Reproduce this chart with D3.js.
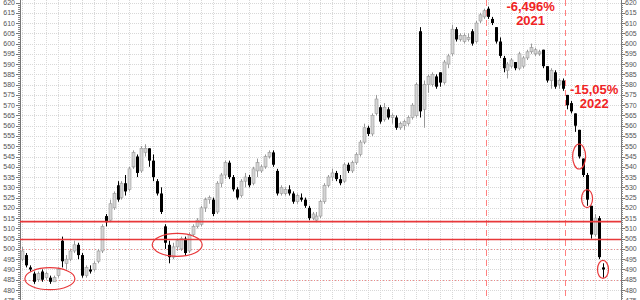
<!DOCTYPE html>
<html>
<head>
<meta charset="utf-8">
<script src="https://cdn.jsdelivr.net/npm/d3@7"></script>
<style>
  body { margin: 0; background: #fff; }
  svg { display: block; font-family: "Liberation Sans", Arial, sans-serif; }
</style>
</head>
<body>
<div id="chart"></div>
<script>
// OHLC values, one per bar (left to right)
var opens = [495,497,491,488,485,489,486,486,484,487,504,493,495,499,502,497,487,490,490,494,499,516,514,520,531,525,532,529,540,545,538,547,549,543,533,527,511,502,496,501,500,505,499,507,511,512,520,524,524,518,532,536,542,535,529,526,533,535,532,538,538,540,545,547,538,527,527,529,527,523,525,524,520,515,514,516,523,531,535,537,534,533,541,538,542,546,552,559,556,566,569,563,568,564,564,559,560,561,564,565,606,568,580,580,584,586,581,590,595,607,602,601,602,606,601,611,613,617,612,608,601,593,587,589,591,588,589,593,596,595,595,597,589,582,586,580,582,575,571,566,558,544,536,521,507,515,491];
var highs = [501,498,492,489,489,490,489,487,487,491,506,497,500,504,503,498,492,492,494,500,512,517,524,528,533,533,536,540,548,546,550,551,549,546,534,530,512,504,503,505,506,506,508,512,515,521,525,526,525,533,537,543,543,536,530,534,537,536,540,544,541,546,548,548,539,531,530,531,528,527,527,525,521,518,518,524,532,536,539,538,536,542,542,543,547,553,561,560,566,575,570,571,569,566,565,562,563,565,571,581,608,582,585,586,585,586,592,595,609,608,605,605,605,607,611,615,617,618,613,608,603,594,591,593,591,596,594,597,600,598,597,597,589,588,587,583,583,575,572,566,558,544,537,521,517,516,493];
var lows  = [494,491,489,483,484,484,485,483,484,486,491,490,494,498,495,486,486,488,489,493,498,511,513,519,523,524,526,528,539,535,537,545,540,533,526,517,500,493,495,499,499,497,498,506,510,511,518,522,516,517,530,534,534,528,524,525,530,530,531,535,537,539,544,540,526,526,526,526,522,522,523,520,514,514,513,515,522,530,533,533,531,532,537,537,541,545,551,555,555,565,561,562,563,561,558,558,558,560,563,564,564,559,576,579,578,579,580,588,594,601,601,600,601,599,600,610,612,612,609,600,593,586,583,588,587,587,588,592,595,594,594,588,581,578,578,578,577,568,566,557,544,535,521,505,506,495,486];
var closes= [499,492,490,484,488,485,488,484,486,490,494,495,499,502,497,487,491,489,493,499,511,513,522,527,524,532,528,539,547,537,549,549,543,535,527,518,503,496,501,504,505,498,507,511,514,520,524,525,517,532,536,542,535,529,525,533,535,531,539,542,540,545,547,541,527,530,529,527,523,526,524,521,515,517,516,523,531,535,537,534,532,541,538,542,546,552,559,556,565,573,562,569,564,565,559,561,562,564,570,580,567,580,584,585,579,581,591,594,607,602,604,604,603,600,610,614,616,613,610,601,594,588,590,592,588,595,593,596,598,597,596,589,582,587,579,582,578,570,567,560,545,536,524,507,515,496,490];

// price levels drawn across the chart
var supportLevels = [513.3, 504.6];
var dottedLevels = [500, 485];
// bars where a new year starts, with its performance label
var yearBars = [117, 137];
var yearNames = ["2021", "2022"];
var yearPerf = ["-6,496%", "-15,05%"];
// circled bars: [bar index, price, x radius, y radius]
var circles = [[6, 485.5, 25, 11], [39, 502, 25, 11.5], [140, 545, 6.5, 12.5], [142, 524.5, 5.5, 9], [146, 490, 5.5, 9]];
var circleShift = [4, 0, 0, 0, 0];

var width = 640, height = 300;
var n = opens.length;

var svg = d3.select("#chart").append("svg")
    .attr("width", width)
    .attr("height", height);

var x = d3.scaleLinear().domain([0, n - 1]).range([22, 603]);
var y = d3.scaleLinear().domain([480, 620]).range([290, 2.5]);

var majorTicks = d3.range(475, 621, 5);
var minorTicks = d3.range(474, 621, 1);

// grid
var grid = svg.append("g");
grid.selectAll(".hg")
    .data(majorTicks)
    .enter().append("line")
    .attr("x1", 20).attr("x2", 621)
    .attr("y1", d => Math.round(y(d)) + 0.5).attr("y2", d => Math.round(y(d)) + 0.5)
    .attr("stroke", "#d8d8d8")
    .attr("stroke-dasharray", "1,1");
grid.selectAll(".vg")
    .data(d3.range(0, n + 1, 3))
    .enter().append("line")
    .attr("x1", d => Math.round(x(d)) + 0.5).attr("x2", d => Math.round(x(d)) + 0.5)
    .attr("y1", 0).attr("y2", height)
    .attr("stroke", "#d8d8d8")
    .attr("stroke-dasharray", "1,1");

// axes on both sides
function drawAxis(xPos, side) {
    var g = svg.append("g");
    g.append("line")
        .attr("x1", xPos + 0.5).attr("x2", xPos + 0.5)
        .attr("y1", 0).attr("y2", height)
        .attr("stroke", "#777");
    g.selectAll(".mn")
        .data(minorTicks)
        .enter().append("line")
        .attr("x1", xPos).attr("x2", xPos + side * 2)
        .attr("y1", d => Math.round(y(d)) + 0.5).attr("y2", d => Math.round(y(d)) + 0.5)
        .attr("stroke", "#888");
    g.selectAll(".mj")
        .data(majorTicks)
        .enter().append("line")
        .attr("x1", xPos).attr("x2", xPos + side * 4)
        .attr("y1", d => Math.round(y(d)) + 0.5).attr("y2", d => Math.round(y(d)) + 0.5)
        .attr("stroke", "#777");
    g.selectAll("text")
        .data(majorTicks)
        .enter().append("text")
        .attr("x", side < 0 ? xPos - 5 : xPos + 4)
        .attr("y", d => y(d) + 2.5)
        .attr("text-anchor", side < 0 ? "end" : "start")
        .attr("font-size", "7px")
        .attr("fill", "#555")
        .text(d => d);
}
drawAxis(20, -1);
drawAxis(621, 1);

// dotted price levels
svg.selectAll(".dl")
    .data(dottedLevels)
    .enter().append("line")
    .attr("x1", 20).attr("x2", 621)
    .attr("y1", d => Math.round(y(d)) + 0.5).attr("y2", d => Math.round(y(d)) + 0.5)
    .attr("stroke", "#f08a8a")
    .attr("stroke-dasharray", "1,2");

// year separators
svg.selectAll(".yl")
    .data(yearBars)
    .enter().append("line")
    .attr("x1", d => Math.round(x(d - 0.5)) + 0.5).attr("x2", d => Math.round(x(d - 0.5)) + 0.5)
    .attr("y1", 0).attr("y2", height)
    .attr("stroke", "#ff8080")
    .attr("stroke-dasharray", "6,4");

// candles
var bars = svg.append("g");
var idx = d3.range(n);
bars.selectAll(".wick")
    .data(idx)
    .enter().append("line")
    .attr("x1", i => Math.round(x(i)) + 0.5).attr("x2", i => Math.round(x(i)) + 0.5)
    .attr("y1", i => y(highs[i])).attr("y2", i => y(lows[i]))
    .attr("stroke", i => closes[i] < opens[i] ? "#000" : "#999");
bars.selectAll(".body")
    .data(idx)
    .enter().append("rect")
    .attr("x", i => Math.round(x(i)) - 1)
    .attr("width", 3)
    .attr("y", i => y(Math.max(opens[i], closes[i])))
    .attr("height", i => Math.max(1, Math.abs(y(opens[i]) - y(closes[i]))))
    .attr("fill", i => closes[i] < opens[i] ? "#000" : "#d4d4d4")
    .attr("stroke", i => closes[i] < opens[i] ? "none" : "#999")
    .attr("stroke-width", 0.6);

// support lines
svg.selectAll(".sl")
    .data(supportLevels)
    .enter().append("line")
    .attr("x1", 20).attr("x2", 621)
    .attr("y1", d => y(d)).attr("y2", d => y(d))
    .attr("stroke", "#e8383a")
    .attr("stroke-width", 1.6);

// circles
svg.selectAll("ellipse")
    .data(circles)
    .enter().append("ellipse")
    .attr("cx", (d, i) => x(d[0]) + circleShift[i])
    .attr("cy", d => y(d[1]))
    .attr("rx", d => d[2])
    .attr("ry", d => d[3])
    .attr("fill", "none")
    .attr("stroke", "#e8383a")
    .attr("stroke-width", 1.2);

// year labels
var labelTop = [11, 94];
yearBars.forEach(function (b, i) {
    var cx = i === 0 ? x(b) + 43 : x(b) + 27;
    svg.append("text")
        .attr("x", cx).attr("y", labelTop[i])
        .attr("text-anchor", "middle")
        .attr("font-size", "13px").attr("font-weight", "bold")
        .attr("fill", "#f02424")
        .text(yearPerf[i]);
    svg.append("text")
        .attr("x", cx).attr("y", labelTop[i] + 14)
        .attr("text-anchor", "middle")
        .attr("font-size", "13px").attr("font-weight", "bold")
        .attr("fill", "#f02424")
        .text(yearNames[i]);
});
</script>
</body>
</html>
